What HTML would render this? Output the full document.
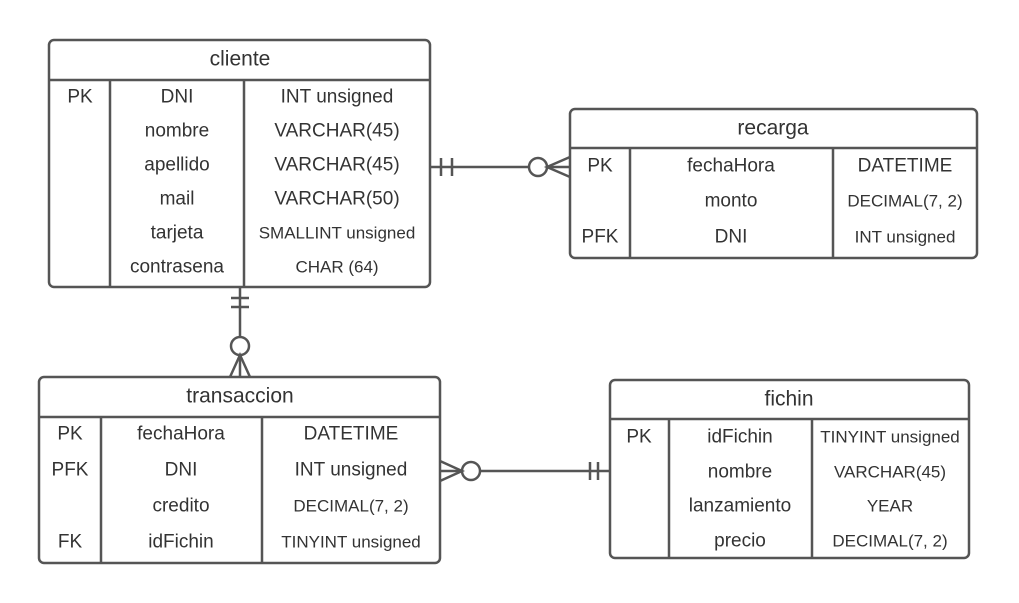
<!DOCTYPE html>
<html><head><meta charset="utf-8"><style>
html,body{margin:0;padding:0;background:#fff;}
svg{display:block;}
text{font-family:"Liberation Sans",Arial,sans-serif;fill:#333;dominant-baseline:central;text-anchor:middle;}
.t{font-size:21px;}
.f{font-size:19px;}
.s{font-size:17px;}
</style></head><body>
<svg width="1019" height="603" viewBox="0 0 1019 603" xmlns="http://www.w3.org/2000/svg">
<g fill="none" stroke="#555" stroke-width="2.5">
<rect x="49" y="40" width="381" height="247" rx="5" fill="#fff"/>
<line x1="49" y1="80" x2="430" y2="80"/>
<line x1="110" y1="80" x2="110" y2="287"/>
<line x1="244" y1="80" x2="244" y2="287"/>
<rect x="570" y="109" width="407" height="149" rx="5" fill="#fff"/>
<line x1="570" y1="148" x2="977" y2="148"/>
<line x1="630" y1="148" x2="630" y2="258"/>
<line x1="833" y1="148" x2="833" y2="258"/>
<rect x="39" y="377" width="401" height="186" rx="5" fill="#fff"/>
<line x1="39" y1="417" x2="440" y2="417"/>
<line x1="101" y1="417" x2="101" y2="563"/>
<line x1="262" y1="417" x2="262" y2="563"/>
<rect x="610" y="380" width="359" height="178" rx="5" fill="#fff"/>
<line x1="610" y1="419" x2="969" y2="419"/>
<line x1="669" y1="419" x2="669" y2="558"/>
<line x1="812" y1="419" x2="812" y2="558"/>
<line x1="430" y1="167" x2="529" y2="167"/>
<line x1="441" y1="158" x2="441" y2="176"/>
<line x1="452" y1="158" x2="452" y2="176"/>
<circle cx="538" cy="167" r="9" fill="#fff"/>
<polyline points="570,157 547,167 570,177"/>
<line x1="547" y1="167" x2="570" y2="167"/>
<line x1="240" y1="287" x2="240" y2="337"/>
<line x1="231" y1="298" x2="249" y2="298"/>
<line x1="231" y1="307" x2="249" y2="307"/>
<circle cx="240" cy="346" r="9" fill="#fff"/>
<polyline points="230,377 240,355 250,377"/>
<line x1="240" y1="355" x2="240" y2="377"/>
<line x1="480" y1="471" x2="610" y2="471"/>
<line x1="590" y1="462" x2="590" y2="480"/>
<line x1="598" y1="462" x2="598" y2="480"/>
<circle cx="471" cy="471" r="9" fill="#fff"/>
<polyline points="440,461 462,471 440,481"/>
<line x1="440" y1="471" x2="462" y2="471"/>
</g>
<text class="t" x="240" y="59">cliente</text>
<text class="f" x="80" y="97">PK</text>
<text class="f" x="177" y="97">DNI</text>
<text class="f" x="177" y="131">nombre</text>
<text class="f" x="177" y="165">apellido</text>
<text class="f" x="177" y="199">mail</text>
<text class="f" x="177" y="233">tarjeta</text>
<text class="f" x="177" y="267">contrasena</text>
<text class="f" x="337" y="97">INT unsigned</text>
<text class="f" x="337" y="131">VARCHAR(45)</text>
<text class="f" x="337" y="165">VARCHAR(45)</text>
<text class="f" x="337" y="199">VARCHAR(50)</text>
<text class="s" x="337" y="233">SMALLINT unsigned</text>
<text class="s" x="337" y="267">CHAR (64)</text>
<text class="t" x="773" y="128">recarga</text>
<text class="f" x="600" y="166">PK</text>
<text class="f" x="600" y="237">PFK</text>
<text class="f" x="731" y="166">fechaHora</text>
<text class="f" x="731" y="201">monto</text>
<text class="f" x="731" y="237">DNI</text>
<text class="f" x="905" y="166">DATETIME</text>
<text class="s" x="905" y="201">DECIMAL(7, 2)</text>
<text class="s" x="905" y="237">INT unsigned</text>
<text class="t" x="240" y="396">transaccion</text>
<text class="f" x="70" y="434">PK</text>
<text class="f" x="70" y="470">PFK</text>
<text class="f" x="70" y="542">FK</text>
<text class="f" x="181" y="434">fechaHora</text>
<text class="f" x="181" y="470">DNI</text>
<text class="f" x="181" y="506">credito</text>
<text class="f" x="181" y="542">idFichin</text>
<text class="f" x="351" y="434">DATETIME</text>
<text class="f" x="351" y="470">INT unsigned</text>
<text class="s" x="351" y="506">DECIMAL(7, 2)</text>
<text class="s" x="351" y="542">TINYINT unsigned</text>
<text class="t" x="789" y="399">fichin</text>
<text class="f" x="639" y="437">PK</text>
<text class="f" x="740" y="437">idFichin</text>
<text class="f" x="740" y="472">nombre</text>
<text class="f" x="740" y="506">lanzamiento</text>
<text class="f" x="740" y="541">precio</text>
<text class="s" x="890" y="437">TINYINT unsigned</text>
<text class="s" x="890" y="472">VARCHAR(45)</text>
<text class="s" x="890" y="506">YEAR</text>
<text class="s" x="890" y="541">DECIMAL(7, 2)</text>
</svg>
</body></html>
